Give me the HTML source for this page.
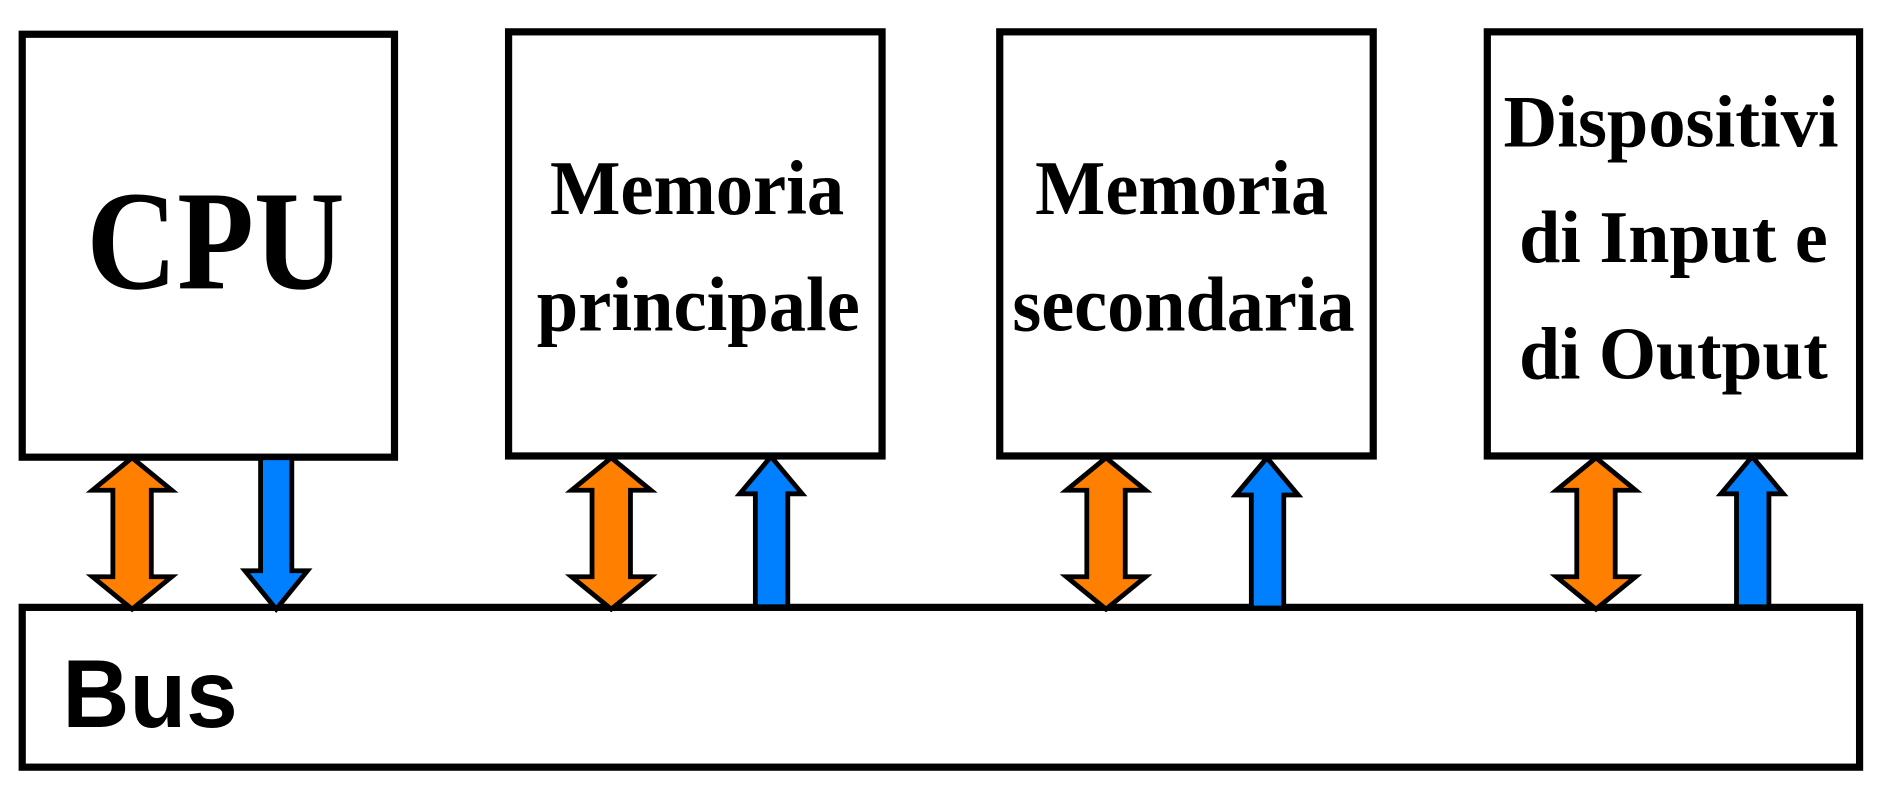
<!DOCTYPE html>
<html><head><meta charset="utf-8"><style>html,body{margin:0;padding:0;background:#fff;overflow:hidden}svg{display:block}
.s{font-family:"Liberation Serif","Times New Roman",serif;font-weight:bold}
.b{font-family:"Liberation Sans",Arial,sans-serif;font-weight:bold}</style></head>
<body>
<svg width="1883" height="793" viewBox="0 0 1568 660" preserveAspectRatio="none" xmlns="http://www.w3.org/2000/svg">
<g fill="#fff" stroke="#000" stroke-width="6">
<rect x="18.5" y="28.5" width="310" height="352"/>
<rect x="423.5" y="26.5" width="311" height="353"/>
<rect x="832.5" y="26.5" width="311" height="353"/>
<rect x="1238.5" y="26.5" width="310" height="353"/>
<rect x="18.5" y="505.5" width="1530" height="133"/>
</g>
<g stroke="#000" stroke-width="4" stroke-linejoin="miter">
<g fill="#FF7F00">
<path id="d" d="M110 381 L143 408 L126 408 L126 480 L143 480 L110 507 L77 480 L94 480 L94 408 L77 408 Z"/>
<use href="#d" x="399"/><use href="#d" x="811"/><use href="#d" x="1219"/>
</g>
<g fill="#0080FF">
<path d="M217 381 L243 381 L243 475 L256 475 L230 507 L204 475 L217 475 Z"/>
<path id="u" d="M642 380 L668 411 L656 411 L656 505 L629 505 L629 411 L616 411 Z"/>
<use href="#u" x="413" y="1"/><use href="#u" x="817"/>
</g>
</g>
<g class="s" fill="#000">
<text x="72" y="240" font-size="118" textLength="215" lengthAdjust="spacingAndGlyphs">CPU</text>
<text x="458" y="178" font-size="64" textLength="245" lengthAdjust="spacingAndGlyphs">Memoria</text>
<text x="447" y="275" font-size="64" textLength="269" lengthAdjust="spacingAndGlyphs">principale</text>
<text x="862" y="178" font-size="64" textLength="244" lengthAdjust="spacingAndGlyphs">Memoria</text>
<text x="843" y="275" font-size="64" textLength="285" lengthAdjust="spacingAndGlyphs">secondaria</text>
<text x="1252" y="122" font-size="62" textLength="279" lengthAdjust="spacingAndGlyphs">Dispositivi</text>
<text x="1265" y="218" font-size="62" textLength="257" lengthAdjust="spacingAndGlyphs">di Input e</text>
<text x="1265" y="315" font-size="62" textLength="257" lengthAdjust="spacingAndGlyphs">di Output</text>
</g>
<text class="b" x="52" y="605" font-size="80" textLength="146" lengthAdjust="spacingAndGlyphs">Bus</text>
</svg>
</body></html>
